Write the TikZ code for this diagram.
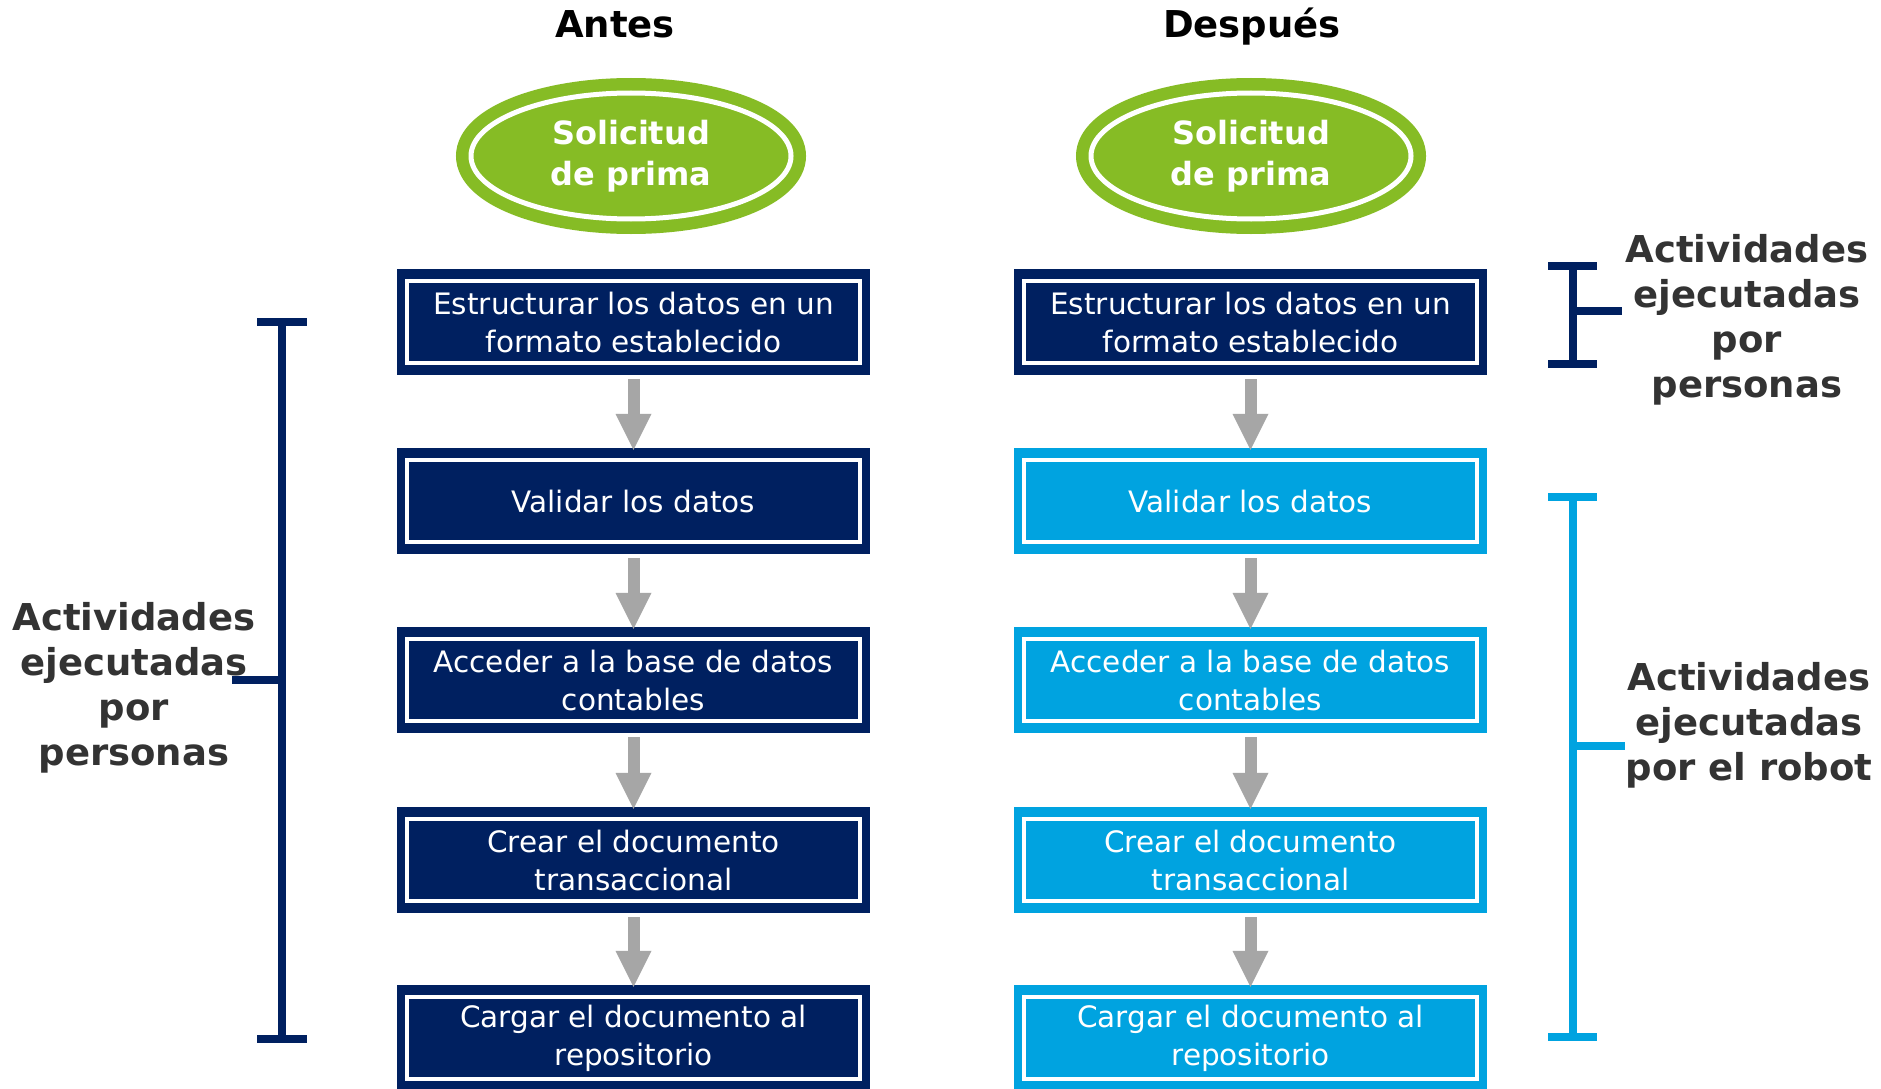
\documentclass[tikz,border=0pt]{standalone}
\usepackage{fontspec}
\setmainfont{DejaVu Sans}
\usepackage{xcolor}
\usetikzlibrary{arrows.meta,shapes.geometric,positioning}

\definecolor{navy}{HTML}{002060}
\definecolor{sky}{HTML}{00A3E0}
\definecolor{leaf}{HTML}{86BC25}
\definecolor{flowgray}{HTML}{A6A6A6}
\definecolor{labelgray}{HTML}{333333}

\begin{document}
\begin{tikzpicture}[
    x=1pt, y=-1pt,
    title/.style={anchor=base, font=\bfseries\fontsize{37}{44}\selectfont},
    sol/.style={ellipse, fill=leaf, draw=white, line width=5pt, minimum width=320pt, minimum height=126pt, inner sep=0pt,
        preaction={draw=leaf, line width=30pt}, text=white, align=center, font=\bfseries\fontsize{32}{41}\selectfont},
    stepbox/.style={rectangle, fill=#1, minimum width=473pt, minimum height=106pt, inner sep=0pt,
        text=white, align=center, font=\fontsize{29.5}{38}\selectfont,
        path picture={\draw[white, line width=4.5pt] ([xshift=10pt,yshift=-12pt]path picture bounding box.north west)
            rectangle ([xshift=-10pt,yshift=12pt]path picture bounding box.south east);}},
    stepbox/.default=navy,
    flow/.style={-{Triangle[width=36pt,length=36pt,line width=0pt]}, line width=12pt, flowgray},
    brace/.style={line width=8pt},
    side/.style={text=labelgray, align=center, font=\bfseries\fontsize{37}{45}\selectfont}
]
    \fill[white] (0,0) rectangle (1881,1089);
    \useasboundingbox (0,0) rectangle (1881,1089);

    % titles
    \node[title] (tA) at (615,38) {Antes};
    \node[title] (tD) at (1252,38) {Después};

    % start
    \node[sol] (sA) at (631,156) {Solicitud\\de prima};
    \node[sol] (sD) at (1251,156) {Solicitud\\de prima};

    % antes
    \node[stepbox] (a1) at (633.5,322) {Estructurar los datos en un\\formato establecido};
    \node[stepbox] (a2) at (633.5,501) {Validar los datos};
    \node[stepbox] (a3) at (633.5,680) {Acceder a la base de datos\\contables};
    \node[stepbox] (a4) at (633.5,860) {Crear el documento\\transaccional};
    \node[stepbox] (a5) at (633.5,1038) {Cargar el documento al\\repositorio};

    % despues
    \node[stepbox] (d1) at (1250.5,322) {Estructurar los datos en un\\formato establecido};
    \node[stepbox=sky] (d2) at (1250.5,501) {Validar los datos};
    \node[stepbox=sky] (d3) at (1250.5,680) {Acceder a la base de datos\\contables};
    \node[stepbox=sky] (d4) at (1250.5,860) {Crear el documento\\transaccional};
    \node[stepbox=sky] (d5) at (1250.5,1038) {Cargar el documento al\\repositorio};

    \draw[flow] ([yshift=-4pt]a1.south) -- ([yshift=-2pt]a2.north);
    \draw[flow] ([yshift=-4pt]a2.south) -- ([yshift=-2pt]a3.north);
    \draw[flow] ([yshift=-4pt]a3.south) -- ([yshift=-2pt]a4.north);
    \draw[flow] ([yshift=-4pt]a4.south) -- ([yshift=-2pt]a5.north);
    \draw[flow] ([yshift=-4pt]d1.south) -- ([yshift=-2pt]d2.north);
    \draw[flow] ([yshift=-4pt]d2.south) -- ([yshift=-2pt]d3.north);
    \draw[flow] ([yshift=-4pt]d3.south) -- ([yshift=-2pt]d4.north);
    \draw[flow] ([yshift=-4pt]d4.south) -- ([yshift=-2pt]d5.north);

    % brackets
    \draw[brace, navy] (257,322) -- (307,322) (282,322) -- (282,1039) (257,1039) -- (307,1039) (282,680) -- (232,680);
    \draw[brace, navy] (1548,266) -- (1597,266) (1573,266) -- (1573,364) (1548,364) -- (1597,364) (1573,311) -- (1622,311);
    \draw[brace, sky] (1548,497) -- (1597,497) (1573,497) -- (1573,1037) (1548,1037) -- (1597,1037) (1573,746) -- (1625,746);

    \node[side] (lA) at (134,688) {Actividades\\ejecutadas\\por\\personas};
    \node[side] (lP) at (1747,320) {Actividades\\ejecutadas\\por\\personas};
    \node[side] (lR) at (1749,725) {Actividades\\ejecutadas\\por el robot};
\end{tikzpicture}
\end{document}
